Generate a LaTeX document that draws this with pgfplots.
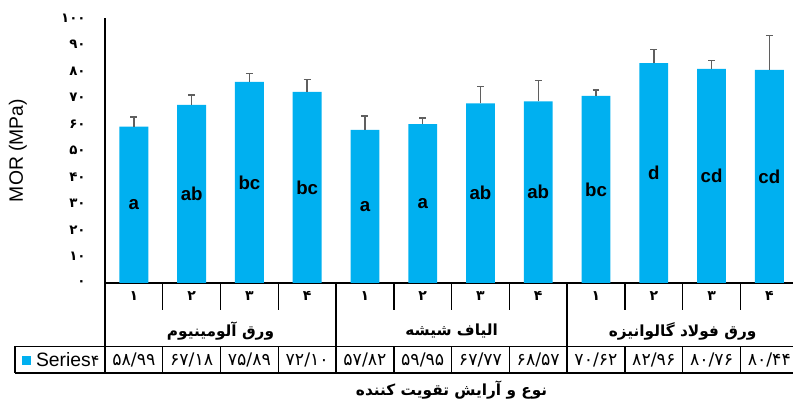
\documentclass[border=0pt]{standalone}
\usepackage{pgfplots}
\pgfplotsset{compat=1.18}
\usepackage{pgfplotstable}
\usepackage{fontspec}
\setmainfont{Liberation Sans}
\newfontfamily\fa[Script=Arabic]{DejaVu Sans}
\TeXXeTstate=1
\definecolor{barblue}{HTML}{00B0F0}
\definecolor{errgray}{HTML}{5F5F5F}
\pgfplotstableread{
x y e lab
0 58.99 3.6 a
1 67.18 3.8 ab
2 75.89 3.2 bc
3 72.10 4.7 bc
4 57.82 5.2 a
5 59.95 2.3 a
6 67.77 6.3 ab
7 68.57 7.9 ab
8 70.62 2.2 bc
9 82.96 5.2 d
10 80.76 3.2 cd
11 80.44 13.0 cd
}\datatable
\begin{document}
\begin{tikzpicture}
\begin{axis}[
  at={(0,0)}, anchor=south west,
  scale only axis, width=516pt, height=198.75pt,
  xmin=-0.5, xmax=11.41, ymin=0, ymax=100,
  axis x line*=bottom, axis y line*=left,
  axis line style={black, line width=1.1pt, -},
  ytick={0,10,...,100},
  yticklabels={۰,۱۰,۲۰,۳۰,۴۰,۵۰,۶۰,۷۰,۸۰,۹۰,۱۰۰},
  yticklabel style={font=\fa\bfseries\fontsize{10}{12}\selectfont, anchor=east, xshift=-11pt},
  xtick={0,...,11},
  xticklabels={۱,۲,۳,۴,۱,۲,۳,۴,۱,۲,۳,۴},
  xticklabel style={font=\fa\bfseries\fontsize{10.5}{12}\selectfont, anchor=center, yshift=-9.75pt},
  major tick length=0pt,
  tick style={draw=none},
  clip=false,
  ylabel={MOR (MPa)},
  ylabel style={at={(axis description cs:-0.1265,0.5)}, anchor=center, font=\fontsize{14.5}{16}\selectfont},
  xlabel={\beginR نوع و آرایش تقویت کننده\endR},
  xlabel style={at={(axis cs:5.5,-40.4)}, anchor=center, font=\fa\bfseries\fontsize{11.5}{13}\selectfont},
]
\addplot[ybar, bar width=0.5, fill=barblue, draw=none,
  error bars/.cd, y dir=plus, y explicit,
  error bar style={errgray, line width=1.1pt},
  error mark options={rotate=90, errgray, mark size=2.6pt, line width=1.1pt}]
  table[x=x, y=y, y error=e] {\datatable};
\addplot[draw=none, mark=none, nodes near coords, point meta=explicit symbolic,
  nodes near coords align=center,
  nodes near coords style={anchor=center, font=\bfseries\fontsize{14}{16}\selectfont}]
  table[x=x, y expr=\thisrow{y}/2, meta=lab] {\datatable};
\addplot[draw=none, mark=none, nodes near coords, point meta=explicit symbolic,
  nodes near coords align=center,
  nodes near coords style={anchor=center, font=\fa\fontsize{13}{14}\selectfont}]
  coordinates {
  (0,-29.06) [۵۸/۹۹]
  (1,-29.06) [۶۷/۱۸]
  (2,-29.06) [۷۵/۸۹]
  (3,-29.06) [۷۲/۱۰]
  (4,-29.06) [۵۷/۸۲]
  (5,-29.06) [۵۹/۹۵]
  (6,-29.06) [۶۷/۷۷]
  (7,-29.06) [۶۸/۵۷]
  (8,-29.06) [۷۰/۶۲]
  (9,-29.06) [۸۲/۹۶]
  (10,-29.06) [۸۰/۷۶]
  (11,-29.06) [۸۰/۴۴]
  };
\pgfplotsinvokeforeach{0.5,1.5,2.5,4.5,5.5,6.5,8.5,9.5,10.5}{
  \draw[line width=1.1pt] (axis cs:#1,0) -- (axis cs:#1,-10.19);
  \draw[line width=1.1pt] (axis cs:#1,-23.96) -- (axis cs:#1,-33.96);
}
\pgfplotsinvokeforeach{-0.5,3.5,7.5}{
  \draw[line width=1.1pt] (axis cs:#1,0) -- (axis cs:#1,-33.96);
}
\draw[line width=1.1pt] (axis cs:-2.058,-23.96) -- (axis cs:11.7,-23.96);
\draw[line width=1.1pt] (axis cs:-2.058,-33.96) -- (axis cs:11.7,-33.96);
\draw[line width=1.1pt] (axis cs:-2.058,-23.96) -- (axis cs:-2.058,-33.96);
\node[fill=barblue, minimum size=6.75pt, inner sep=0pt] at (axis cs:-1.86,-29.06) {};
\node[anchor=west, inner sep=0pt, font=\fontsize{14.5}{16}\selectfont] at (axis cs:-1.698,-29.06) {Series{\fa\fontsize{12}{14}\selectfont ۴}};
\node[font=\fa\bfseries\fontsize{11.5}{13}\selectfont] at (axis cs:1.5,-18.1) {\beginR ورق آلومینیوم\endR};
\node[font=\fa\bfseries\fontsize{11.5}{13}\selectfont] at (axis cs:5.5,-18.1) {\beginR الیاف شیشه\endR};
\node[font=\fa\bfseries\fontsize{11.5}{13}\selectfont] at (axis cs:9.5,-18.1) {\beginR ورق فولاد گالوانیزه\endR};
\end{axis}
\pgfresetboundingbox
\useasboundingbox (-78.75pt,-89.25pt) rectangle (516pt,212.25pt);
\end{tikzpicture}
\end{document}
